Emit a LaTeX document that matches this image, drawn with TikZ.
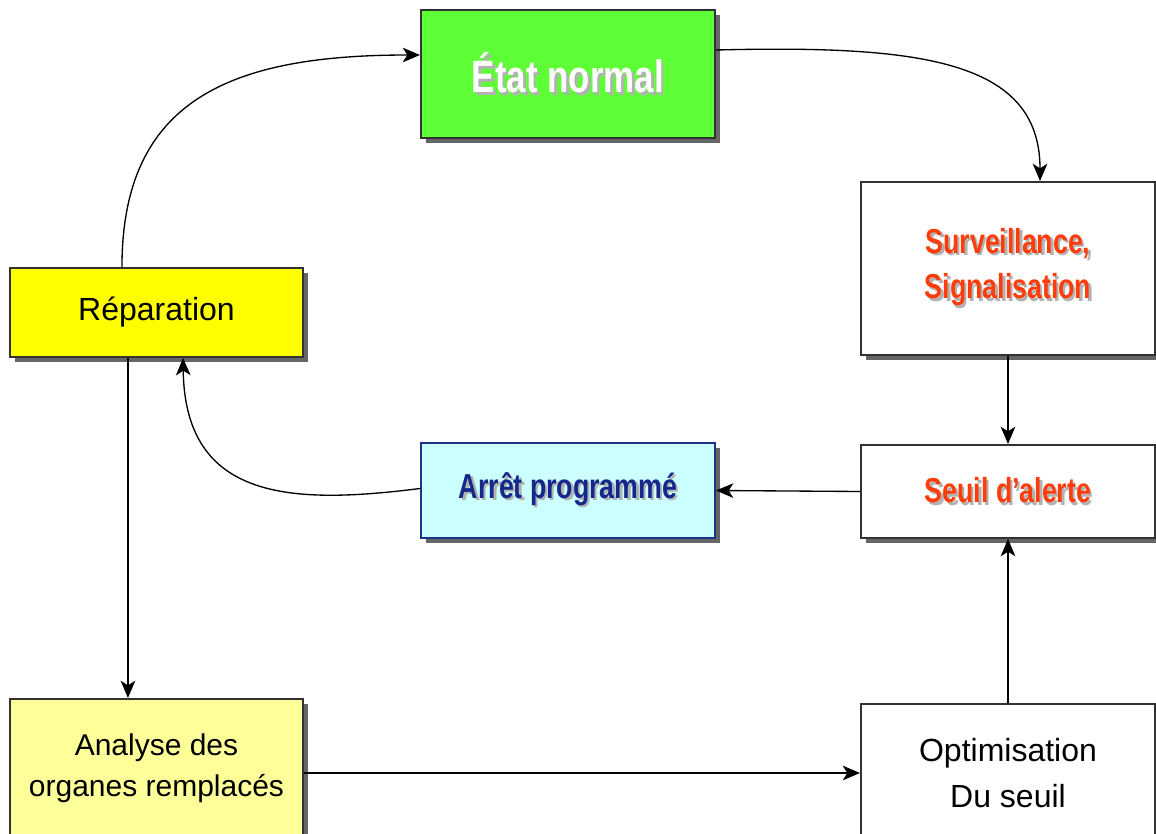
\documentclass[tikz,border=0pt]{standalone}
\usepackage{fontspec}
\setmainfont{Liberation Sans}
\newfontfamily\narrowsans[FakeStretch=0.77]{Liberation Sans}
\usetikzlibrary{arrows.meta,shadows}

\definecolor{stategreen}{RGB}{95,255,55}
\definecolor{repyellow}{RGB}{255,255,0}
\definecolor{paleyellow}{RGB}{255,255,153}
\definecolor{palecyan}{RGB}{204,255,255}
\definecolor{navytext}{RGB}{20,40,140}
\definecolor{navyline}{RGB}{30,50,140}
\definecolor{alertred}{RGB}{255,60,10}
\definecolor{boxline}{RGB}{50,50,50}

% text with a soft grey shadow behind it
\newcommand\shadowed[2]{\makebox[0pt][l]{\hspace{1.8pt}\raisebox{-1.8pt}{\textcolor{black!30}{#2}}}\textcolor{#1}{#2}}

\begin{document}
\begin{tikzpicture}[x=0.75pt,y=-0.75pt,
  box/.style={draw=boxline, line width=1.5pt, inner sep=0pt, align=center,
    drop shadow={shadow xshift=3.5pt, shadow yshift=-3.5pt, fill=black!60, opacity=1}},
  boldlabel/.style={font=\narrowsans\bfseries\fontsize{26}{34}\selectfont},
  plainlabel/.style={font=\fontsize{24}{34}\selectfont},
  arr/.style={-{Stealth[length=13pt,width=11pt,inset=3.5pt]}, line width=1pt, draw=black}]

\useasboundingbox (0,0) rectangle (1156,834);
\clip (0,0) rectangle (1156,834);

% boxes
\node[box, fill=stategreen, minimum width=220.5pt, minimum height=96pt,
      font=\narrowsans\bfseries\fontsize{34}{38}\selectfont] (etat) at (568,74)
  {\shadowed{white}{État normal}};
\node[box, fill=white, minimum width=220.5pt, minimum height=129.75pt, boldlabel] (surv) at (1008,268.5)
  {\shadowed{alertred}{Surveillance,}\\\shadowed{alertred}{Signalisation}};
\node[box, fill=repyellow, minimum width=219.75pt, minimum height=66.75pt, plainlabel] (rep) at (156.5,312.5)
  {Réparation};
\node[box, draw=navyline, fill=palecyan, minimum width=220.5pt, minimum height=71.25pt, boldlabel] (arret) at (568,490.5)
  {\shadowed{navytext}{Arrêt programmé}};
\node[box, fill=white, minimum width=220.5pt, minimum height=69.75pt, boldlabel] (seuil) at (1008,491.5)
  {\shadowed{alertred}{Seuil d’alerte}};
\node[box, fill=paleyellow, minimum width=219.75pt, minimum height=104.25pt,
      font=\fontsize{22.5}{31}\selectfont] (ana) at (156.5,768.5)
  {Analyse des\\organes remplacés};
\node[box, fill=white, minimum width=220.5pt, minimum height=103.5pt, plainlabel] (opt) at (1008,773)
  {Optimisation\\Du seuil};

% connectors
\draw[arr] ([xshift=-25.9pt]rep.north) .. controls (122,100) and (230,55) .. ([yshift=14.25pt]etat.west);
\draw[arr] ([yshift=18pt]etat.east) .. controls (920,45) and (1040,60) .. ([xshift=24pt]surv.north);
\draw[arr] (surv.south) -- (seuil.north);
\draw[arr] (seuil.west) -- (arret.east);
\draw[arr] ([yshift=1.5pt]arret.west) .. controls (290,505) and (185,500) .. ([xshift=19.9pt]rep.south);
\draw[arr] ([xshift=-21.4pt]rep.south) coordinate (repout) -- (repout |- ana.north);
\draw[arr] (ana.east |- opt.west) -- (opt.west);
\draw[arr] (opt.north) -- (seuil.south);
\end{tikzpicture}
\end{document}
